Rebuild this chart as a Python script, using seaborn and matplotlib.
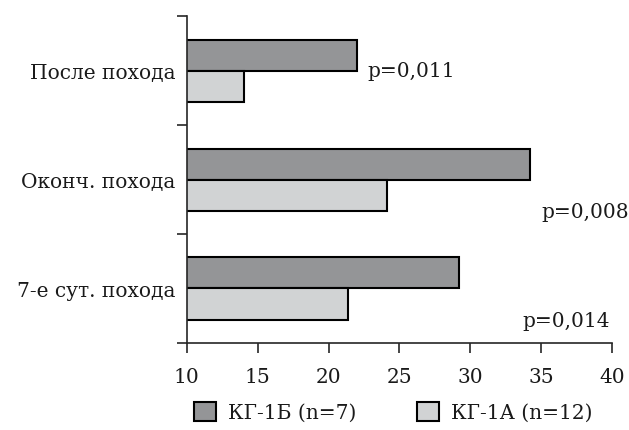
import matplotlib
matplotlib.use('Agg')
import matplotlib.pyplot as plt
import seaborn as sns
import pandas as pd

categories = ['После похода', 'Оконч. похода', '7-е сут. похода']
groups = ['КГ-1Б (n=7)', 'КГ-1А (n=12)']
values_1b = [22.0, 34.2, 29.2]
values_1a = [14.0, 24.1, 21.4]
p_labels = ['p=0,011', 'p=0,008', 'p=0,014']
x_ticks = [10, 15, 20, 25, 30, 35, 40]

df = pd.DataFrame({
    'cat': categories * 2,
    'group': [groups[0]] * 3 + [groups[1]] * 3,
    'val': values_1b + values_1a,
})

sns.set_style('ticks')
plt.rcParams['font.family'] = ['DejaVu Serif']

fig = plt.figure(figsize=(6.29, 4.31), dpi=100)
ax = fig.add_axes([0.297, 0.202, 0.676, 0.758])

sns.barplot(data=df, y='cat', x='val', hue='group', order=categories, hue_order=groups,
            palette=['#939598', '#d1d3d4'], edgecolor='black', linewidth=1.5,
            width=0.57, orient='h', ax=ax, legend=True)

ax.set_xlim(10, 40)
ax.set_ylim(2.5, -0.5)
ax.set_xticks(x_ticks)
# group boundaries get the tick marks, group centres get the labels
ax.set_yticks([-0.5, 0.5, 1.5, 2.5])
ax.set_yticklabels([])
ax.set_yticks(range(len(categories)), minor=True)
ax.set_yticklabels(categories, minor=True)
ax.tick_params(axis='y', which='minor', length=0, labelsize=14.5, pad=8, labelcolor='#1a1a1a')
ax.tick_params(axis='y', which='major', length=7, width=1.2, direction='out')
ax.tick_params(axis='x', length=7, width=1.2, direction='out', labelsize=14.5, pad=10,
               labelcolor='#1a1a1a')
ax.set_xlabel('')
ax.set_ylabel('')
sns.despine(ax=ax)
for s in ['left', 'bottom']:
    ax.spines[s].set_linewidth(1.2)

# p-values next to bar groups
p_pos = [(22.75, 0.0), (35.0, 1.29), (33.7, 2.29)]
for (px, py), lab in zip(p_pos, p_labels):
    ax.text(px, py, lab, fontsize=14.5, va='center', ha='left', color='#1a1a1a')

ax.legend(loc='center', bbox_to_anchor=(0.625, 0.042), bbox_transform=fig.transFigure,
          ncol=2, frameon=False, fontsize=14.5, handlelength=1.1, handleheight=1.1,
          columnspacing=3.0, handletextpad=0.6, labelcolor='#1a1a1a')

fig.savefig('out.png', dpi=100)
